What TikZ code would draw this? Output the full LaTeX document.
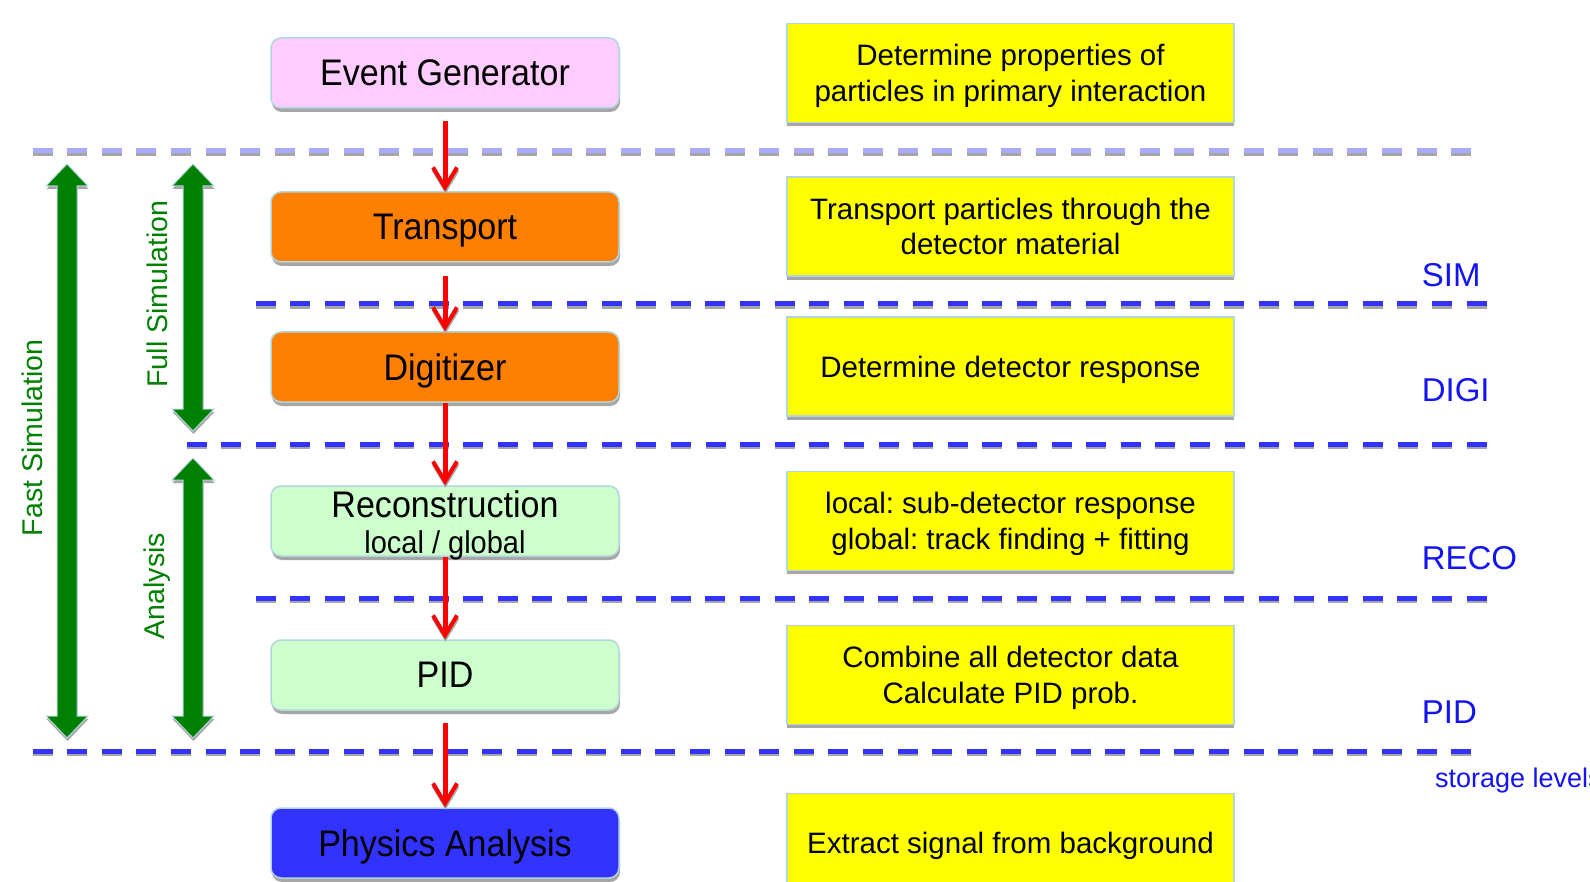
\documentclass[tikz,border=0pt]{standalone}
\usepackage{fontspec}
\setmainfont{Liberation Sans}
\newfontfamily\narrowfont[FakeStretch=0.92]{Liberation Sans}
\usetikzlibrary{arrows.meta,shadows}
\definecolor{egpink}{RGB}{255,204,255}
\definecolor{orng}{RGB}{255,128,0}
\definecolor{lgreen}{RGB}{204,255,204}
\definecolor{pblue}{RGB}{51,51,255}
\definecolor{yel}{RGB}{255,255,0}
\definecolor{bordc}{RGB}{178,214,222}
\definecolor{shgray}{RGB}{166,166,166}
\definecolor{lav}{RGB}{170,170,255}
\definecolor{dblue}{RGB}{51,51,255}
\definecolor{lblue}{RGB}{20,20,240}
\definecolor{dgreen}{RGB}{0,128,0}
\definecolor{rred}{RGB}{255,0,0}
\tikzset{
  leftbox/.style={draw=bordc, line width=1.5pt, rounded corners=10pt,
    minimum width=348pt, minimum height=70pt, inner sep=0pt, text=black,
    text depth=0pt,
    font=\narrowfont\fontsize{37}{44}\selectfont,
    drop shadow={shadow xshift=1pt, shadow yshift=-4pt, fill=shgray, opacity=1}},
  rightbox/.style={draw=bordc, line width=1.5pt, fill=yel,
    minimum width=447pt, minimum height=99pt, inner sep=0pt, align=center,
    text depth=0pt,
    font=\frenchspacing\fontsize{29.5}{35.5}\selectfont, text=black,
    drop shadow={shadow xshift=0pt, shadow yshift=-4pt, fill=shgray, opacity=1}},
  dashline/.style={line width=5pt, dash pattern=on 20pt off 14.6pt},
  redarrow/.style={draw=rred, line width=5pt,
    -{Straight Barb[length=20pt, width=24pt, line width=4pt]}},
  redshadow/.style={draw=shgray, line width=5pt,
    -{Straight Barb[length=20pt, width=24pt, line width=4pt]},
    transform canvas={xshift=0.5pt, yshift=-2.5pt}},
  greenarr/.style={fill=dgreen, draw=bordc, line width=1pt,
    drop shadow={shadow xshift=0.5pt, shadow yshift=-3pt, fill=shgray, opacity=1}},
  gtext/.style={text=dgreen, font=\fontsize{28.5}{34}\selectfont, inner sep=0pt},
  btext/.style={text=lblue, font=\fontsize{33}{40}\selectfont, inner sep=0pt, anchor=west},
}
\begin{document}
\begin{tikzpicture}[x=1pt,y=-1pt]
\useasboundingbox (0,0) rectangle (1590,882);
\fill[white] (0,0) rectangle (1590,882);

% separators
\draw[dashline, shgray] (32.5,153.5) -- (1476,153.5);
\draw[dashline, lav] (32.5,151) -- (1476,151);
\foreach \xa/\yy in {255.5/304, 186.6/444, 255.5/598}{
  \draw[dashline, shgray] (\xa,\yy+2.5) -- (1486.5,\yy+2.5);
  \draw[dashline, dblue] (\xa,\yy) -- (1486.5,\yy);
}
\draw[dashline, shgray] (32.5,753.5) -- (1476,753.5);
\draw[dashline, dblue] (32.5,751) -- (1476,751);

% left boxes
\node[leftbox, fill=egpink] (eg) at (445,73) {Event Generator};
\node[leftbox, fill=orng] (tr) at (445,227) {Transport};
\node[leftbox, fill=orng] (dg) at (445,367) {Digitizer};
\node[leftbox, fill=lgreen] (rc) at (445,521) {};
\node[font=\narrowfont\fontsize{37}{44}\selectfont, inner sep=0pt] (rct1) at (445,504) {Reconstruction};
\node[font=\narrowfont\fontsize{31.5}{38}\selectfont, inner sep=0pt] (rct2) at (445,545) {local / global};
\node[leftbox, fill=lgreen] (pid) at (445,675) {PID};
\node[leftbox, fill=pblue] (pa) at (445,843) {Physics Analysis};

% right boxes
\node[rightbox] (r1) at (1010.5,73) {Determine properties of\\particles in primary interaction};
\node[rightbox] (r2) at (1010.5,226.5) {Transport particles through the\\detector material};
\node[rightbox] (r3) at (1010.5,366.5) {Determine detector response};
\node[rightbox] (r4) at (1010.5,520.8) {local: sub-detector response\\global: track finding + fitting};
\node[rightbox] (r5) at (1010.5,674.8) {Combine all detector data\\Calculate PID prob.};
\node[rightbox] (r6) at (1010.5,843) {Extract signal from background};

% red arrows
\draw[redshadow, shorten <=12pt] (eg.south) -- (tr.north);
\draw[redarrow, shorten <=12pt] (eg.south) -- (tr.north);
\draw[redshadow, shorten <=13pt] (tr.south) -- (dg.north);
\draw[redarrow, shorten <=13pt] (tr.south) -- (dg.north);
\draw[redshadow] (dg.south) -- (rc.north);
\draw[redarrow] (dg.south) -- (rc.north);
\draw[redshadow] (rc.south) -- (pid.north);
\draw[redarrow] (rc.south) -- (pid.north);
\draw[redshadow, shorten <=12pt] (pid.south) -- (pa.north);
\draw[redarrow, shorten <=12pt] (pid.south) -- (pa.north);

% green double arrows
\filldraw[greenarr] (67,164) -- (88,186) -- (77,186) -- (77,716) -- (88,716) -- (67,738)
  -- (46,716) -- (57,716) -- (57,186) -- (46,186) -- cycle;
\filldraw[greenarr] (193,164) -- (214,186) -- (203,186) -- (203,409) -- (214,409) -- (193,431)
  -- (172,409) -- (183,409) -- (183,186) -- (172,186) -- cycle;
\filldraw[greenarr] (193,458) -- (214,480) -- (203,480) -- (203,716) -- (214,716) -- (193,738)
  -- (172,716) -- (183,716) -- (183,480) -- (172,480) -- cycle;

\node[gtext, rotate=90] (fast) at (32.5,438) {Fast Simulation};
\node[gtext, rotate=90] (full) at (157,294) {Full Simulation};
\node[gtext, rotate=90] (ana) at (157,586) {Analysis};

% storage level labels
\node[btext] (sim) at (1421.6,275) {SIM};
\node[btext] (digi) at (1421.6,390.4) {DIGI};
\node[btext] (reco) at (1421.6,557.7) {RECO};
\node[btext] (pidl) at (1421.6,711.8) {PID};
\node[btext, font=\fontsize{27}{32}\selectfont] (stor) at (1434.8,781) {storage levels};
\end{tikzpicture}
\end{document}
